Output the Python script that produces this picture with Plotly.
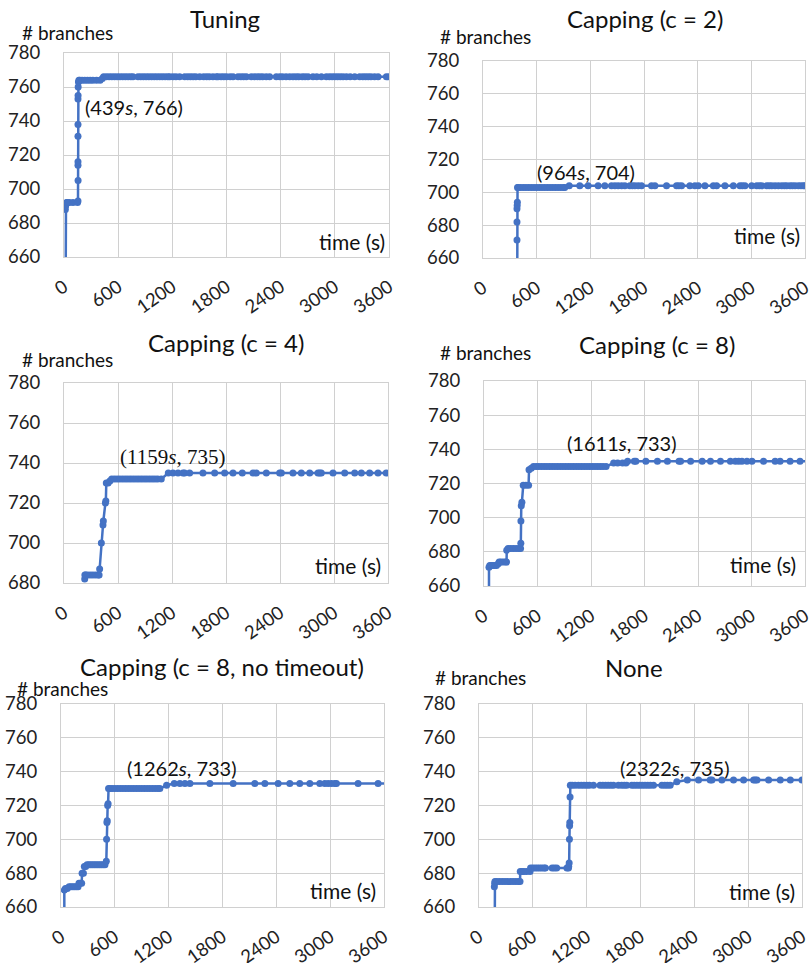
import plotly.graph_objects as go

W, H = 812, 963

# ---------------- data ----------------
titles = ["Tuning", "Capping (c = 2)", "Capping (c = 4)", "Capping (c = 8)",
          "Capping (c = 8, no timeout)", "None"]
labels = ["(439<i>s</i>, 766)", "(964<i>s</i>, 704)", "(1159<i>s</i>, 735)",
          "(1611<i>s</i>, 733)", "(1262<i>s</i>, 733)", "(2322<i>s</i>, 735)"]
x_ticks = [0, 600, 1200, 1800, 2400, 3000, 3600]
y_ranges = [(660, 780), (660, 780), (680, 780), (660, 780), (660, 780), (660, 780)]

t_tuning = [15, 15, 18, 22, 28, 35, 60, 100, 150, 155, 156, 155, 155, 155, 155, 155, 156, 157, 160, 165, 175,
            200, 230, 260, 290, 320, 360, 400, 425,
            439, 470, 500, 530, 560, 590, 620, 650, 680, 710, 740, 764,
            820, 850, 880, 910, 940, 970, 1000, 1030, 1060, 1090, 1120, 1150, 1171,
            1207, 1240, 1281, 1337, 1370, 1400, 1430, 1460, 1503,
            1547, 1580, 1610, 1650, 1688, 1706, 1740, 1770, 1800, 1840, 1872,
            1928, 1960, 1990, 2020, 2075, 2110, 2140, 2170, 2200, 2240, 2278,
            2352, 2390, 2420, 2460, 2500, 2537, 2570, 2600, 2640, 2670, 2703,
            2758, 2800, 2851, 2906, 2940, 2970, 3000, 3030, 3060, 3091,
            3128, 3170, 3220, 3275, 3310, 3340, 3370, 3400, 3440, 3479, 3571, 3600]
v_tuning = [600, 688, 690, 691, 692, 692, 692, 692, 692, 693, 705, 714, 716, 731, 738, 753, 755, 760, 763, 764, 764,
            764, 764, 764, 764, 764, 764, 764, 765] + [766] * 93

t_c2 = [380, 380, 380, 380, 382, 384, 386, 392, 420, 450, 480, 510, 540, 570, 600, 630, 660, 690, 720, 750,
        780, 810, 840, 870, 900, 914,
        964, 1082, 1175, 1287, 1362, 1437, 1475, 1511, 1550, 1586, 1642, 1670, 1698, 1735, 1772, 1884, 1922,
        2052, 2164, 2190, 2220, 2313, 2369, 2407, 2481, 2575, 2612, 2705, 2799, 2873, 2900, 2929, 3004,
        3060, 3090, 3116, 3172, 3200, 3228, 3265, 3302, 3340, 3370, 3396, 3433, 3460, 3489, 3526, 3555,
        3582, 3600]
v_c2 = [600, 671, 682, 690, 692, 694, 703] + [703] * 19 + [704] * 51

t_c4 = [230, 232, 240, 260, 290, 320, 350, 380, 390, 396, 415, 433, 437, 460, 465, 470, 490, 510,
        530, 560, 590, 620, 650, 680, 710, 740, 770, 800, 830, 860, 890, 920, 950, 980, 1010, 1040, 1081,
        1159, 1211, 1267, 1322, 1340, 1396, 1544, 1674, 1785, 1878, 1981, 2100, 2137, 2248, 2396, 2415,
        2544, 2637, 2730, 2822, 2841, 2859, 2989, 3119, 3230, 3304, 3396, 3489, 3580, 3650]
v_c4 = [682, 684, 684, 684, 684, 684, 684, 684, 684, 687, 700, 709, 711, 720, 721, 730, 730, 731,
        732, 732, 732, 732, 732, 732, 732, 732, 732, 732, 732, 732, 732, 732, 732, 732, 732, 732, 732] + [735] * 30

t_c8 = [56, 56, 65, 80, 100, 120, 140, 160, 170, 190, 215, 240, 253, 255, 270, 300, 330, 360, 390, 410,
        413, 414, 418, 425, 440, 470, 500, 505, 530, 555,
        585, 615, 645, 675, 705, 735, 765, 795, 825, 855, 885, 915, 945, 975, 1005, 1035, 1065, 1095,
        1125, 1155, 1185, 1215, 1245, 1275, 1305, 1335, 1369,
        1454, 1499, 1554, 1592, 1611, 1685, 1703, 1815, 1945, 2057, 2187, 2205, 2317, 2447, 2540, 2652,
        2763, 2819, 2856, 2893, 2949, 3005, 3135, 3265, 3321, 3433, 3544, 3650]
v_c8 = [600, 671, 672, 672, 672, 672, 672, 673, 674, 674, 674, 674, 674, 681, 682, 682, 682, 682, 682, 682,
        685, 698, 707, 709, 719, 719, 719, 728, 729, 730] + [730] * 27 + [732, 732, 732, 732] + [733] * 25

t_c8nt = [37, 37, 50, 70, 90, 110, 130, 150, 170, 190, 200, 215, 230, 235, 250, 260, 275, 290, 310, 330,
          350, 370, 390, 410, 430, 450, 470, 490, 505, 508, 512, 515, 520, 525, 530, 545, 570, 600,
          630, 660, 690, 720, 750, 780, 810, 840, 870, 900, 930, 960, 990, 1020, 1050, 1080, 1102,
          1177, 1262, 1325, 1381, 1437, 1659, 1919, 2160, 2272, 2420, 2550, 2661, 2773, 2884, 2940,
          2977, 3014, 3051, 3070, 3311, 3534, 3650]
v_c8nt = [600, 670, 671, 671, 672, 672, 672, 672, 672, 672, 674, 674, 674, 680, 680, 684, 684, 685, 685, 685,
          685, 685, 685, 685, 685, 685, 685, 685, 687, 700, 710, 711, 720, 721, 730, 730, 730, 730] + \
         [730] * 17 + [732] + [733] * 21

t_none = [171, 171, 175, 178, 200, 230, 260, 290, 320, 350, 380, 410, 439, 457, 460, 480, 500, 530, 569,
          575, 600, 625, 650, 675, 700, 725, 740, 815, 840, 866, 980, 997, 1000, 1005, 1008, 1010, 1012,
          1015, 1018, 1040, 1071, 1108, 1140, 1170, 1200, 1230, 1276, 1350, 1380, 1410, 1440, 1470, 1499,
          1554, 1590, 1620, 1647, 1703, 1730, 1760, 1790, 1820, 1850, 1880, 1910, 1945, 2038, 2070, 2100,
          2131, 2205, 2322, 2447, 2577, 2596, 2707, 2837, 2949, 3061, 3079, 3098, 3228, 3358, 3470, 3600]
v_none = [600, 672, 674, 675, 675, 675, 675, 675, 675, 675, 675, 675, 675, 675, 681, 681, 681, 681, 681,
          683, 683, 683, 683, 683, 683, 683, 683, 683, 683, 683, 683, 683, 684, 686, 700, 708, 710,
          725, 732] + [732] * 31 + [734] + [735] * 14

series_t = [t_tuning, t_c2, t_c4, t_c8, t_c8nt, t_none]
series_v = [v_tuning, v_c2, v_c4, v_c8, v_c8nt, v_none]

# ---------------- layout (pixel boxes) ----------------
plot_boxes = [(64, 389, 53, 257), (483, 805, 61, 258), (64, 388, 383, 583),
              (484, 805, 381, 586), (61, 384, 704, 907), (479, 802, 704, 907)]
title_pos = [(225, 18), (645, 18), (226, 342), (657, 345), (222, 666), (634, 667)]
ylab_pos = [(20, 32), (438, 36), (20, 359), (438, 352), (15, 688), (433, 677)]
xlab_pos = [(387, 242), (802, 236), (383, 565), (798, 564), (378, 890), (797, 891)]
ann_pos = [(83, 107), (535, 172), (118, 457), (565, 443), (125, 768), (618, 768)]

FONT = "Lato"
BLUE = "#4472C4"
GRID = "#d0d0d0"

def px(x):
    return x / W

def py(y):
    return 1 - y / H

fig = go.Figure()
annotations = []
layout = {}
for i in range(6):
    n = "" if i == 0 else str(i + 1)
    x0, x1, y0, y1 = plot_boxes[i]
    fig.add_trace(go.Scatter(
        x=series_t[i], y=series_v[i], mode="lines+markers",
        line=dict(color=BLUE, width=2.5),
        marker=dict(color=BLUE, size=7),
        xaxis="x" + n, yaxis="y" + n, showlegend=False, cliponaxis=True))
    layout["xaxis" + n] = dict(
        domain=[px(x0), px(x1)], anchor="y" + n, range=[0, 3600], automargin=False,
        tickvals=x_ticks, ticktext=[str(v) for v in x_ticks], tickangle=-35,
        showgrid=True, gridcolor=GRID, gridwidth=1, zeroline=False,
        showline=True, linecolor=GRID, mirror=True, ticklabeloverflow="allow",
        tickfont=dict(family=FONT, size=18.5, color="#222"), ticklabelstandoff=11)
    lo, hi = y_ranges[i]
    layout["yaxis" + n] = dict(
        domain=[py(y1), py(y0)], anchor="x" + n, range=[lo, hi], dtick=20, automargin=False,
        showgrid=True, gridcolor=GRID, gridwidth=1, zeroline=False,
        showline=True, linecolor=GRID, mirror=True, ticklabeloverflow="allow",
        tickfont=dict(family=FONT, size=18.5, color="#222"), ticklabelstandoff=19)
    tx, ty = title_pos[i]
    annotations.append(dict(text=titles[i], x=px(tx), y=py(ty), xref="paper", yref="paper",
                            xanchor="center", yanchor="middle", showarrow=False,
                            font=dict(family=FONT, size=24, color="#111")))
    lx, ly = ylab_pos[i]
    annotations.append(dict(text="# branches", x=px(lx), y=py(ly), xref="paper", yref="paper",
                            xanchor="left", yanchor="middle", showarrow=False,
                            font=dict(family=FONT, size=19, color="#111")))
    rx, ry = xlab_pos[i]
    annotations.append(dict(text="time (s)", x=px(rx), y=py(ry), xref="paper", yref="paper",
                            xanchor="right", yanchor="middle", showarrow=False,
                            font=dict(family=FONT, size=21, color="#111")))
    ax, ay = ann_pos[i]
    afont = "Liberation Serif" if i == 2 else FONT
    annotations.append(dict(text=labels[i], x=px(ax), y=py(ay), xref="paper", yref="paper",
                            xanchor="left", yanchor="middle", showarrow=False,
                            font=dict(family=afont, size=21 if i == 2 else 20, color="#111")))

fig.update_layout(**layout)
fig.update_layout(width=W, height=H, margin=dict(l=0, r=0, t=0, b=0, autoexpand=False),
                  paper_bgcolor="white", plot_bgcolor="white",
                  annotations=annotations, font=dict(family=FONT))
fig.write_html("out.html", config={"displayModeBar": False},
               post_script="document.body.style.margin='0px';")
